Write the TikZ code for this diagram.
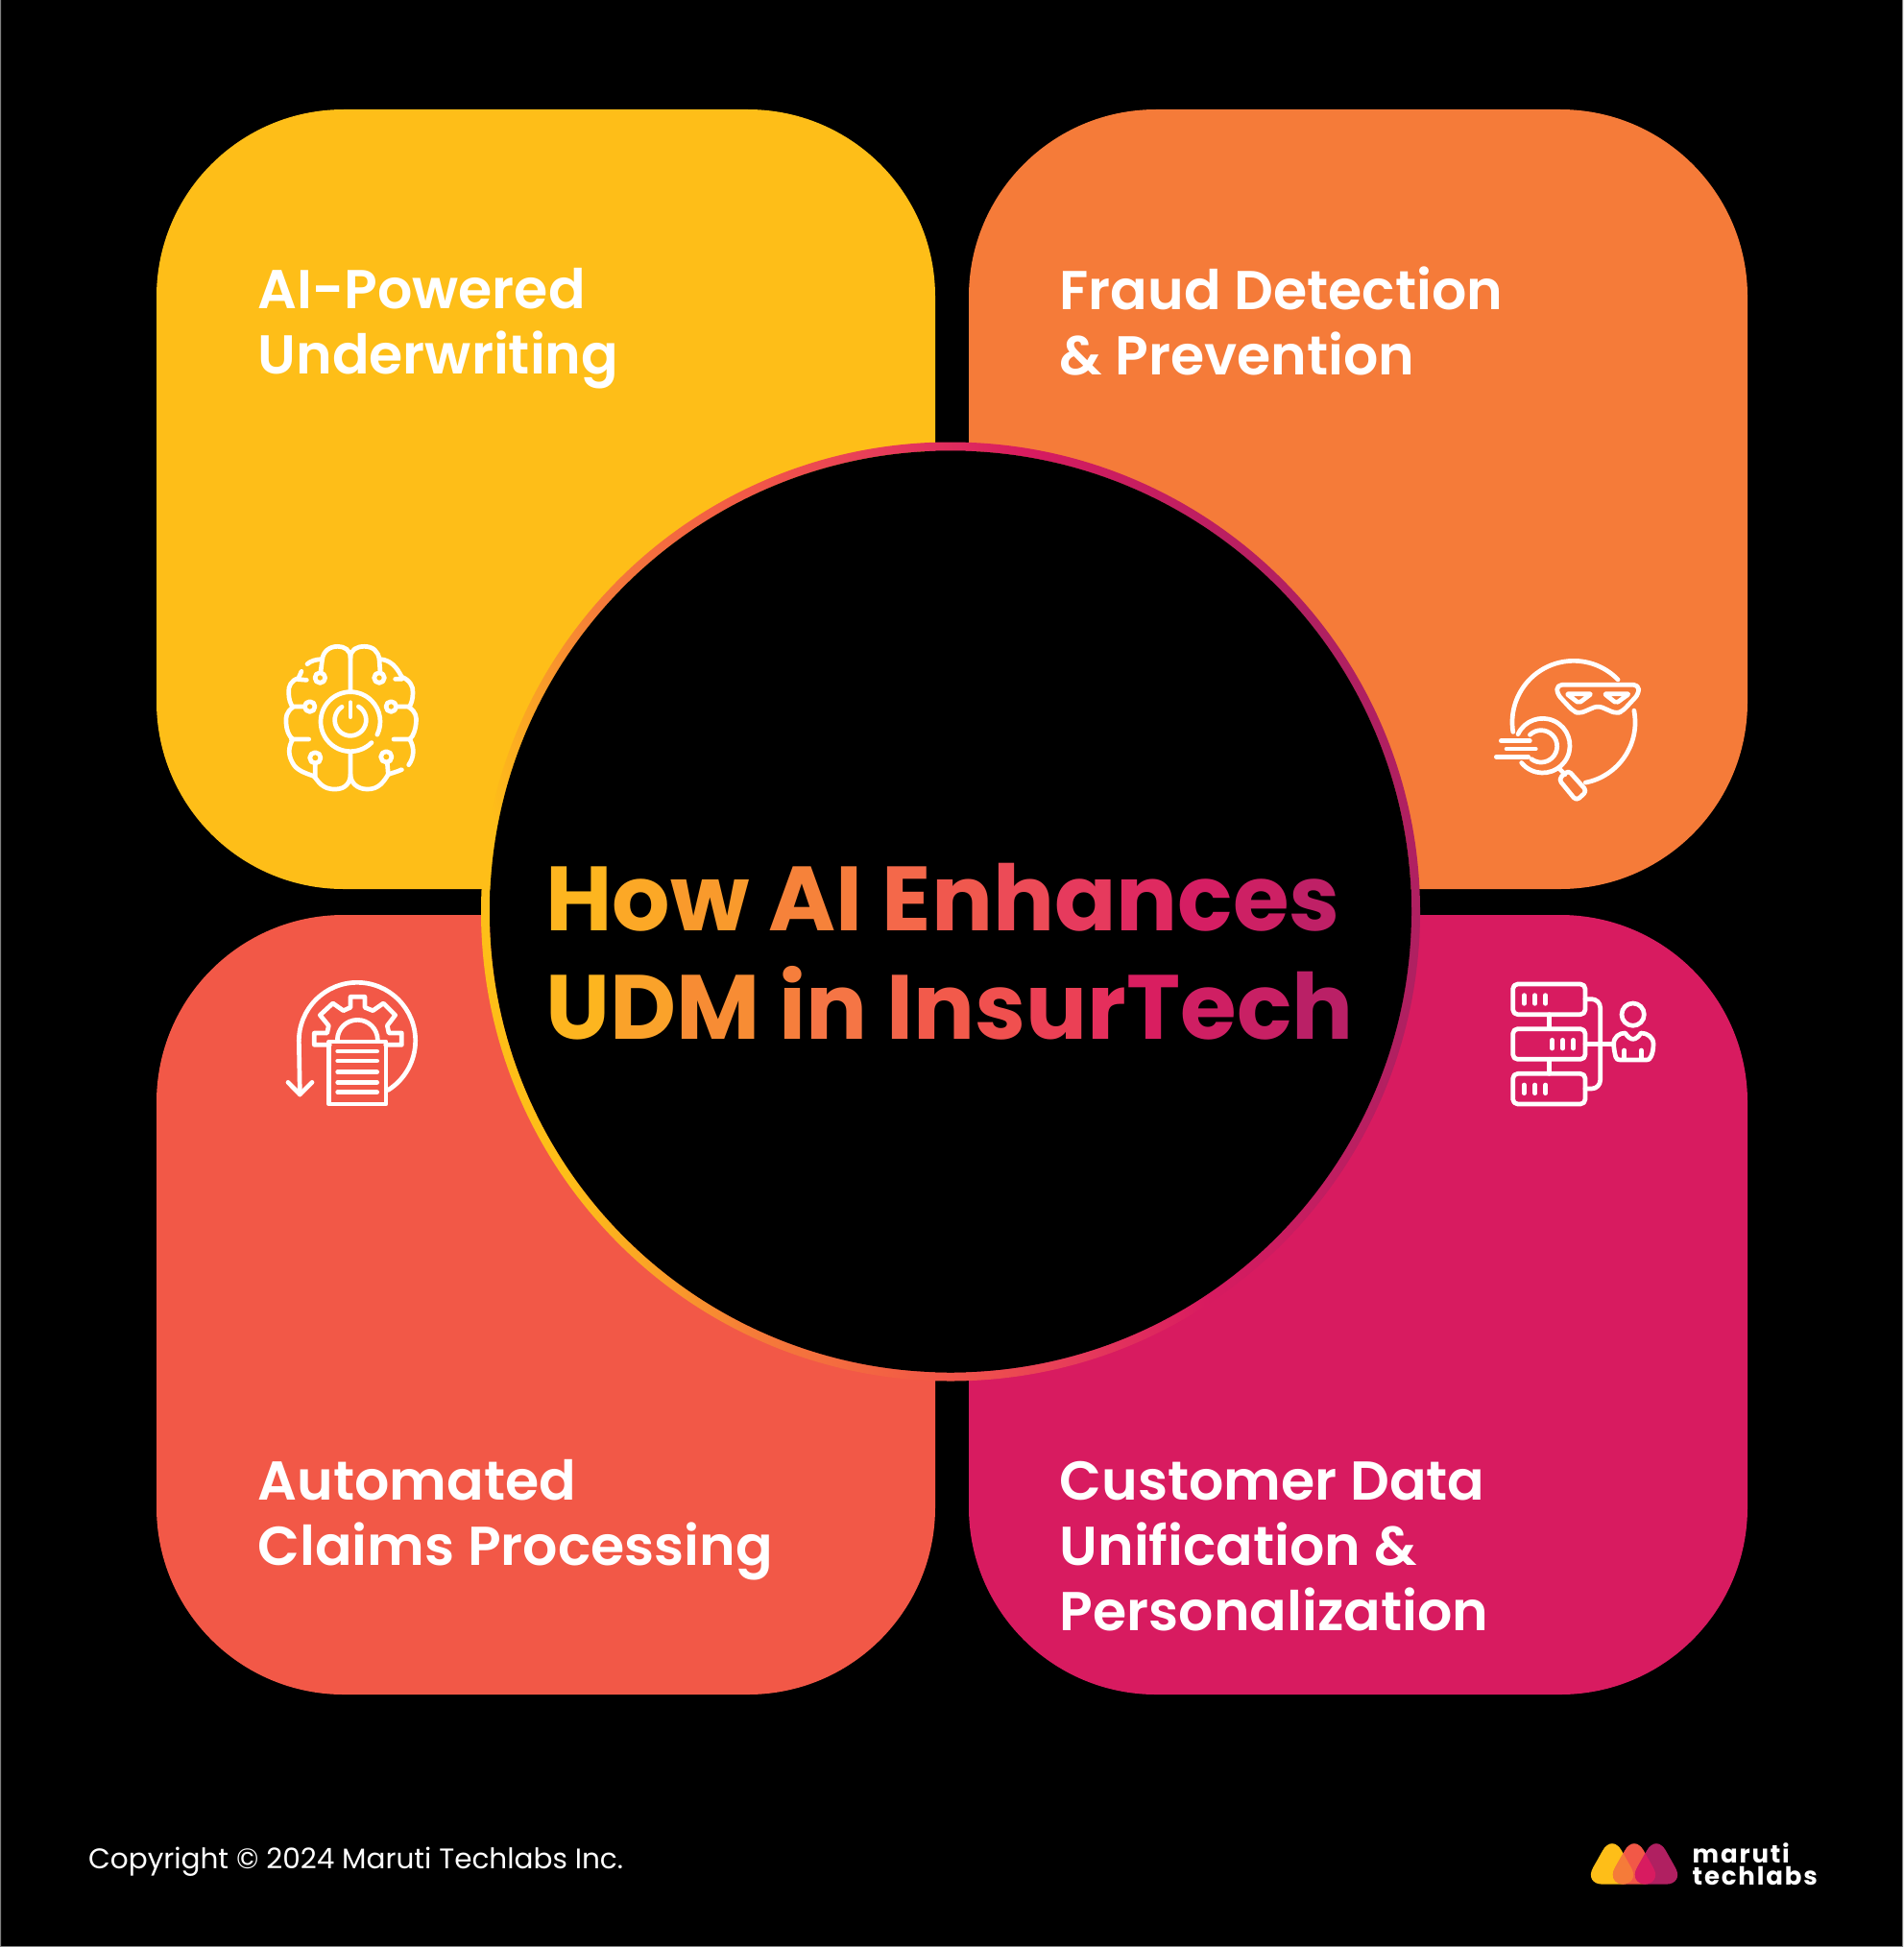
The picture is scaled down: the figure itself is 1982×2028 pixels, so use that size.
\documentclass[tikz,border=0pt]{standalone}
\usepackage{fontspec}
\setmainfont{Poppins}
\newfontfamily\semib{Poppins SemiBold}
\newfontfamily\boldf{Poppins Bold}
\newfontfamily\logof[LetterSpace=7]{Poppins Bold}
\definecolor{cyellow}{HTML}{FEBE18}
\definecolor{corange}{HTML}{F57B39}
\definecolor{cred}{HTML}{F25847}
\definecolor{cmag}{HTML}{D81B60}
\definecolor{cdark}{HTML}{B02061}
\definecolor{crose}{HTML}{E63A5B}
\pgfdeclarehorizontalshading{ringshade}{100bp}{
 color(0bp)=(cyellow);color(27bp)=(cyellow);color(35bp)=(corange);color(44bp)=(cred);color(52bp)=(crose);color(59bp)=(cmag);color(72bp)=(cdark);color(100bp)=(cdark)}
\newcommand{\gc}[2]{\textcolor[HTML]{#1}{#2}}
\newcommand{\capline}[1]{\rule{0pt}{#1}}
\tikzset{
 card/.style={rounded corners=195pt},
 cardtext/.style={text=white,anchor=north west,inner sep=0pt,align=left,font=\semib\fontsize{57}{67.8}\selectfont},
 ico/.style={draw=white,line width=4.7pt,line cap=round,line join=round},
 bar/.style={line width=4.7pt,line cap=round,draw=white}
}
\begin{document}
\begin{tikzpicture}[x=1pt,y=-1pt]
\useasboundingbox (0,0) rectangle (1982,2028);
\fill[black] (0,0) rectangle (1982,2028);
\fill[gray] (0,0) rectangle (1,2028) (0,2027) rectangle (1982,2028) (1981,0) rectangle (1982,2028);
% cards
\fill[cyellow,card] (163,114) rectangle (974,926);
\fill[corange,card] (1009,114) rectangle (1820,926);
\fill[cred,card] (163,953) rectangle (974,1765);
\fill[cmag,card] (1009,953) rectangle (1820,1765);
% ring
\shade[shading=ringshade,shading angle=12,even odd rule] (990,949.5) circle (489) (990,949.5) circle (480);
\fill[black] (990,949.5) circle (480);
% title
\node[anchor=north west,inner sep=0pt,align=left,font=\boldf\fontsize{95}{113}\selectfont] (title) at (568,898.5) {\capline{70pt}%
\gc{FDB51F}{H}\gc{FCA826}{o}\gc{F99A2C}{w} \gc{F6823A}{A}\gc{F67C3C}{I} \gc{F4684A}{E}\gc{F0584E}{n}\gc{EC4B57}{h}\gc{E63A5D}{a}\gc{DF2A60}{n}\gc{D51E63}{c}\gc{CD2064}{e}\gc{BF2066}{s}\\
\gc{FDB51F}{U}\gc{FAA22A}{D}\gc{F78C34}{M} \gc{F67E3C}{i}\gc{F57545}{n} \gc{F36449}{I}\gc{F25A4B}{n}\gc{F0504F}{s}\gc{EB4055}{u}\gc{E52F5C}{r}\gc{D91E60}{T}\gc{CF1F63}{e}\gc{C82064}{c}\gc{BA2066}{h}};
% labels
\node[cardtext] (l1) at (268.5,277.7) {\capline{44pt}AI-Powered\\Underwriting};
\node[cardtext] (l2) at (1103.5,277.7) {\capline{44pt}Fraud Detection\\\& Prevention};
\node[cardtext] (l3) at (268.5,1518.7) {\capline{44pt}Automated\\Claims Processing};
\node[cardtext] (l4) at (1103.5,1518.7) {\capline{44pt}Customer Data\\Unification \&\\Personalization};
\node[anchor=base west,inner sep=0pt,text=white,font=\fontsize{29.5}{36}\selectfont] (copy) at (92,1946) {Copyright © 2024 Maruti Techlabs Inc.};
% brain icon
\begin{scope}[shift={(270,650)},x=1/3*1pt,y=-1/3*1pt]
\draw[ico] (285,205) -- (285,105) .. controls (285,80) and (265,70) .. (245,70) .. controls (220,70) and (200,85) .. (197,110) -- (192,150);
\draw[ico] (195,110) .. controls (180,110) and (160,115) .. (150,125);
\draw[ico] (132,148) -- (122,170) .. controls (100,175) and (90,195) .. (92,215) .. controls (92,235) and (98,250) .. (105,260) .. controls (85,275) and (82,290) .. (84,310) .. controls (85,330) and (92,350) .. (105,360) .. controls (90,385) and (90,410) .. (105,435) .. controls (115,455) and (140,465) .. (170,475) .. controls (185,490) and (195,518) .. (240,516) .. controls (270,515) and (285,495) .. (285,470) -- (285,400);
\draw[ico] (122,173) -- (148,175) (105,258) -- (140,258) (100,360) -- (155,360) (175,435) -- (175,475);
\draw[ico] (190,168) circle (16) (158,258) circle (16) (175,418) circle (17) (375,168) circle (16) (412,258) circle (16) (397,415) circle (17);
\draw[ico] (285,105) .. controls (285,80) and (305,70) .. (328,70) .. controls (355,70) and (372,85) .. (375,110) -- (378,150);
\draw[ico] (378,110) .. controls (410,112) and (430,135) .. (445,165) .. controls (470,175) and (482,195) .. (480,215) .. controls (480,235) and (475,250) .. (468,260) .. controls (490,275) and (492,290) .. (490,310) .. controls (488,330) and (482,350) .. (470,360) .. controls (485,385) and (485,415) .. (467,440);
\draw[ico] (425,172) -- (445,172) (430,258) -- (468,258) (420,360) -- (472,360) (400,433) -- (403,470);
\draw[ico] (445,455) .. controls (430,462) and (415,465) .. (403,470) .. controls (390,490) and (375,518) .. (335,516) .. controls (305,515) and (285,495) .. (285,470);
\draw[ico] (285,305) ++(45:93) arc (45:386:93);
\draw[ico] (285,300) ++(301:49) arc (301:597:49);
\draw[ico] (285,245) -- (285,290);
\end{scope}
% fraud icon
\begin{scope}[shift={(1540,670)},x=1/3*1pt,y=-1/3*1pt]
\draw[ico] (297,247) ++(171:192) arc (171:316:192);
\draw[ico] (297,247) ++(-11:192) arc (-11:79:192);
\draw[ico,rounded corners=5pt] (245,130) -- (500,130) -- (500,158) -- (450,212) -- (430,220) -- (373,195) -- (315,220) -- (295,212) -- (245,158) -- cycle;
\draw[ico,rounded corners=2pt] (275,158) -- (352,158) -- (313,187) -- cycle;
\draw[ico,rounded corners=2pt] (393,158) -- (470,158) -- (430,187) -- cycle;
\draw[ico] (200,320) ++(205:85) arc (205:501:85);
\draw[ico] (195,322) ++(226:50) arc (226:487:50);
\draw[ico] (255,395) -- (270,410);
\draw[ico,rounded corners=4pt] (250,425) -- (280,397) -- (338,462) -- (305,492) -- cycle;
\draw[ico] (70,305) -- (160,305) (87,330) -- (178,330) (55,355) -- (155,355);
\end{scope}
% claims icon
\begin{scope}[shift={(280,1000)},x=1/3*1pt,y=-1/3*1pt]
\draw[ico] (276,252) ++(180:182) arc (180:418:182);
\draw[ico] (94,252) -- (97,420);
\draw[ico] (60,382) -- (97,420) -- (135,382);
\draw[ico] (190,265) -- (142,265) -- (142,228) -- (182,228) -- (187,205) -- (160,172) -- (200,135) -- (233,158) -- (255,148) -- (255,115) -- (300,115) -- (300,148) -- (325,158) -- (358,135) -- (395,172) -- (370,205) -- (375,228) -- (415,228) -- (415,265) -- (365,265);
\draw[ico] (214,250) arc (180:360:63);
\draw[ico] (188,255) rectangle (366,450);
\draw[bar] (215,285) -- (338,285) (215,315) -- (338,315) (215,350) -- (338,350) (215,382) -- (338,382) (215,413) -- (338,413);
\end{scope}
% data icon
\begin{scope}[shift={(1550,1000)},x=1/3*1pt,y=-1/3*1pt]
\draw[ico,rounded corners=5pt] (77,75) rectangle (303,170);
\draw[ico,rounded corners=5pt] (77,215) rectangle (303,310);
\draw[ico,rounded corners=5pt] (77,355) rectangle (303,450);
\draw[bar] (112,110) -- (112,136) (146,110) -- (146,136) (179,110) -- (179,136);
\draw[bar] (200,250) -- (200,276) (233,250) -- (233,276) (266,250) -- (266,276);
\draw[bar] (112,390) -- (112,416) (146,390) -- (146,416) (179,390) -- (179,416);
\draw[ico] (190,170) -- (190,215) (190,310) -- (190,355);
\draw[ico,rounded corners=9pt] (303,122) -- (350,122) -- (350,402) -- (303,402);
\draw[ico] (303,262) -- (385,262);
\draw[ico] (452,170) circle (35);
\draw[ico] (392,262) .. controls (392,240) and (410,228) .. (428,228) .. controls (435,240) and (445,247) .. (452,247) .. controls (460,247) and (470,240) .. (477,228) .. controls (495,228) and (516,240) .. (516,262) .. controls (516,280) and (512,295) .. (508,302) .. controls (505,310) and (500,312) .. (495,312) -- (412,312) .. controls (405,312) and (400,310) .. (398,302) .. controls (395,290) and (392,275) .. (392,262) -- cycle;
\draw[ico] (425,282) -- (425,310) (478,282) -- (478,310);
\end{scope}
% logo
\begin{scope}[shift={(1639,1890)},x=1/3*1pt,y=-1/3*1pt]
\def\tri#1{(#1,60) -- (#1+89,218) -- (#1-89,218) -- cycle}
\fill[cyellow,rounded corners=20pt] \tri{120};
\fill[cred,rounded corners=20pt] \tri{189};
\fill[cdark,rounded corners=20pt] \tri{258};
\begin{scope}
\clip[rounded corners=20pt] \tri{120};
\fill[corange,rounded corners=20pt] \tri{189};
\end{scope}
\begin{scope}
\clip[rounded corners=20pt] \tri{189};
\fill[cmag,rounded corners=20pt] \tri{258};
\end{scope}
\end{scope}
\node[anchor=north west,inner sep=0pt,align=left,text=white,font=\logof\fontsize{26}{23}\selectfont] (logo) at (1762.5,1918) {\capline{22pt}maruti\\techlabs};
\end{tikzpicture}
\end{document}
